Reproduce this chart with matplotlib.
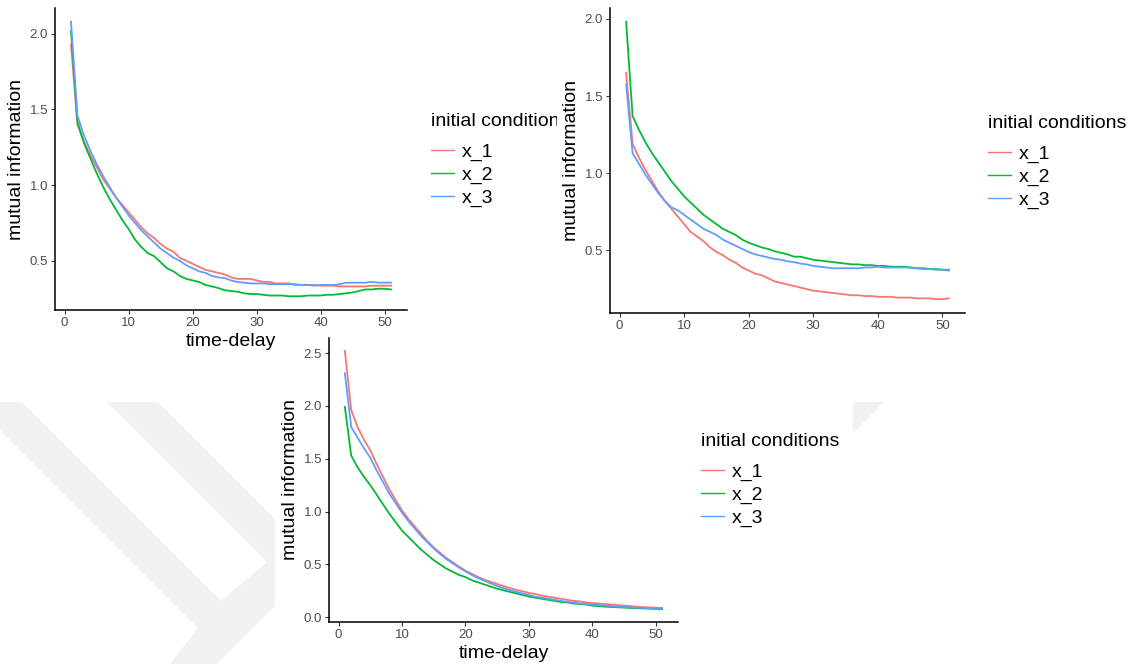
import numpy as np
import matplotlib
matplotlib.use("Agg")
import matplotlib.pyplot as plt
from matplotlib.patches import Polygon, Rectangle
from matplotlib.transforms import Affine2D, Bbox, TransformedBbox

plt.rcParams['font.family'] = ['Liberation Sans', 'DejaVu Sans']

W, H = 1137, 664

# time-delay axis, shared by all three panels
delay = list(range(1, 52))
labels = ["x_1", "x_2", "x_3"]
colors = ["#F8766D", "#00BA38", "#619CFF"]

# top-left panel
p1_x1 = [1.93, 1.40, 1.29, 1.20, 1.12, 1.04, 0.98, 0.92, 0.87, 0.82,
         0.77, 0.72, 0.68, 0.65, 0.61, 0.58, 0.56, 0.52, 0.50, 0.48,
         0.46, 0.44, 0.43, 0.42, 0.41, 0.39, 0.38, 0.38, 0.38, 0.37,
         0.36, 0.36, 0.35, 0.35, 0.35, 0.34, 0.34, 0.34, 0.34, 0.335,
         0.335, 0.335, 0.33, 0.33, 0.33, 0.33, 0.33, 0.335, 0.335, 0.335, 0.335]
p1_x2 = [2.02, 1.42, 1.28, 1.18, 1.08, 0.99, 0.91, 0.84, 0.77, 0.71,
         0.64, 0.59, 0.55, 0.53, 0.49, 0.45, 0.43, 0.40, 0.38, 0.37,
         0.36, 0.34, 0.33, 0.32, 0.305, 0.30, 0.295, 0.285, 0.28, 0.28,
         0.275, 0.27, 0.27, 0.27, 0.265, 0.265, 0.265, 0.27, 0.27, 0.27,
         0.275, 0.275, 0.28, 0.285, 0.29, 0.30, 0.31, 0.31, 0.315, 0.315, 0.31]
p1_x3 = [2.08, 1.46, 1.33, 1.23, 1.14, 1.06, 0.99, 0.92, 0.86, 0.80,
         0.75, 0.70, 0.66, 0.62, 0.58, 0.55, 0.52, 0.50, 0.47, 0.45,
         0.43, 0.42, 0.40, 0.39, 0.385, 0.37, 0.36, 0.355, 0.35, 0.35,
         0.35, 0.345, 0.345, 0.345, 0.345, 0.345, 0.34, 0.34, 0.335, 0.34,
         0.34, 0.34, 0.345, 0.355, 0.355, 0.355, 0.355, 0.36, 0.355, 0.355, 0.355]

# top-right panel
p2_x1 = [1.65, 1.19, 1.10, 1.02, 0.95, 0.88, 0.82, 0.77, 0.72, 0.67,
         0.62, 0.59, 0.56, 0.52, 0.49, 0.47, 0.44, 0.42, 0.39, 0.37,
         0.35, 0.34, 0.32, 0.30, 0.29, 0.28, 0.27, 0.26, 0.25, 0.24,
         0.235, 0.23, 0.225, 0.22, 0.215, 0.21, 0.21, 0.205, 0.205, 0.20,
         0.20, 0.20, 0.195, 0.195, 0.195, 0.19, 0.19, 0.19, 0.185, 0.185, 0.19]
p2_x2 = [1.98, 1.37, 1.28, 1.20, 1.13, 1.07, 1.01, 0.95, 0.90, 0.85,
         0.81, 0.77, 0.73, 0.70, 0.67, 0.64, 0.62, 0.60, 0.57, 0.55,
         0.535, 0.52, 0.51, 0.495, 0.485, 0.475, 0.46, 0.46, 0.45, 0.44,
         0.435, 0.43, 0.425, 0.42, 0.415, 0.41, 0.41, 0.405, 0.405, 0.40,
         0.40, 0.395, 0.395, 0.395, 0.39, 0.385, 0.385, 0.38, 0.38, 0.375, 0.375]
p2_x3 = [1.575, 1.13, 1.06, 0.99, 0.93, 0.87, 0.82, 0.78, 0.76, 0.73,
         0.70, 0.67, 0.64, 0.62, 0.60, 0.57, 0.55, 0.53, 0.51, 0.49,
         0.475, 0.465, 0.455, 0.445, 0.44, 0.43, 0.425, 0.415, 0.41, 0.40,
         0.395, 0.39, 0.385, 0.385, 0.385, 0.385, 0.385, 0.39, 0.39, 0.395,
         0.39, 0.39, 0.39, 0.39, 0.39, 0.385, 0.38, 0.38, 0.375, 0.375, 0.37]

# bottom panel
p3_x1 = [2.52, 1.96, 1.80, 1.68, 1.58, 1.45, 1.33, 1.21, 1.11, 1.01,
         0.93, 0.86, 0.79, 0.72, 0.66, 0.61, 0.56, 0.52, 0.48, 0.44,
         0.41, 0.38, 0.355, 0.335, 0.315, 0.295, 0.275, 0.26, 0.245, 0.23,
         0.22, 0.205, 0.195, 0.185, 0.175, 0.165, 0.155, 0.15, 0.14, 0.135,
         0.13, 0.125, 0.12, 0.115, 0.11, 0.105, 0.10, 0.095, 0.092, 0.09, 0.087]
p3_x2 = [1.99, 1.53, 1.42, 1.33, 1.25, 1.16, 1.07, 0.98, 0.90, 0.82,
         0.76, 0.70, 0.64, 0.59, 0.54, 0.50, 0.46, 0.43, 0.40, 0.38,
         0.35, 0.33, 0.31, 0.29, 0.27, 0.255, 0.24, 0.225, 0.21, 0.195,
         0.185, 0.175, 0.165, 0.155, 0.145, 0.14, 0.13, 0.125, 0.12, 0.11,
         0.105, 0.10, 0.097, 0.094, 0.091, 0.088, 0.085, 0.083, 0.081, 0.079, 0.077]
p3_x3 = [2.31, 1.80, 1.70, 1.60, 1.51, 1.39, 1.28, 1.17, 1.08, 0.99,
         0.91, 0.84, 0.77, 0.71, 0.65, 0.60, 0.55, 0.51, 0.47, 0.435,
         0.40, 0.37, 0.345, 0.32, 0.295, 0.275, 0.255, 0.24, 0.225, 0.21,
         0.195, 0.185, 0.175, 0.165, 0.155, 0.145, 0.14, 0.13, 0.125, 0.12,
         0.115, 0.11, 0.105, 0.10, 0.097, 0.094, 0.09, 0.088, 0.086, 0.085, 0.084]

fig = plt.figure(figsize=(W / 100, H / 100), dpi=100)
px = Affine2D().scale(1 / W, -1 / H).translate(0, 1) + fig.transFigure

# faint watermark behind the pictures
wm = "#f1f1f1"
fig.add_artist(Polygon([(-28, 402), (22, 402), (221, 601), (267, 562), (107, 402),
                        (158, 402), (300, 544), (300, 581), (217, 664), (170, 664),
                        (198, 628)], closed=True, transform=px, fc=wm, ec="none", zorder=-3))
fig.add_artist(Polygon([(700, 402), (884, 402), (700, 586)], closed=True,
                       transform=px, fc=wm, ec="none", zorder=-3))
fig.add_artist(Rectangle((275, 330), 578, 334, transform=px, fc="white", ec="none", zorder=-2))


def add_panel(box, series, yticks, xlabel=True):
    l, t, r, b = box
    ax = fig.add_axes([l / W, 1 - b / H, (r - l) / W, (b - t) / H])
    ax.patch.set_alpha(0)
    for ys, lab, c in zip(series, labels, colors):
        ax.plot(delay, ys, color=c, lw=1.3, label=lab)
    ax.margins(x=0.05, y=0.05)
    ax.set_xticks([0, 10, 20, 30, 40, 50])
    ax.set_yticks(yticks)
    ax.yaxis.set_major_formatter(matplotlib.ticker.FormatStrFormatter("%.1f"))
    for s in ["top", "right"]:
        ax.spines[s].set_visible(False)
    for s in ["left", "bottom"]:
        ax.spines[s].set_linewidth(1.1)
        ax.spines[s].set_color("black")
    ax.tick_params(length=3, width=0.8, color="#333333", labelcolor="#4D4D4D",
                   labelsize=9.5, pad=2)
    ax.set_ylabel("mutual information", fontsize=14, labelpad=3)
    if xlabel:
        ax.set_xlabel("time-delay", fontsize=14, labelpad=3)
    return ax


def add_legend(ax, x, y):
    leg = ax.legend(loc="upper left", bbox_to_anchor=(x, y), bbox_transform=px,
                    title="initial conditions", alignment="left", frameon=False,
                    fontsize=14, title_fontsize=14, borderpad=0, borderaxespad=0,
                    handlelength=1.2, handletextpad=0.4, labelspacing=0.26)
    # a little more room between the title and the keys, as ggplot does
    leg._legend_box.sep = 9.5
    for h in leg.get_lines():
        h.set_linewidth(1.0)
    return leg


ax1 = add_panel((55, 8, 407, 310), [p1_x1, p1_x2, p1_x3], [0.5, 1.0, 1.5, 2.0])
ax2 = add_panel((610, 8, 965, 313), [p2_x1, p2_x2, p2_x3], [0.5, 1.0, 1.5, 2.0], xlabel=False)
ax3 = add_panel((329, 338, 678, 622), [p3_x1, p3_x2, p3_x3], [0.0, 0.5, 1.0, 1.5, 2.0, 2.5])

leg1 = add_legend(ax1, 431, 113)
# the top-left picture is cut where the top-right one begins
leg1.get_title().set_clip_box(TransformedBbox(Bbox([[0, 0], [557 / W, 1]]), fig.transFigure))
leg1.get_title().set_clip_on(True)
add_legend(ax2, 988, 115)
add_legend(ax3, 701, 433)

fig.savefig("out.png", dpi=100)
